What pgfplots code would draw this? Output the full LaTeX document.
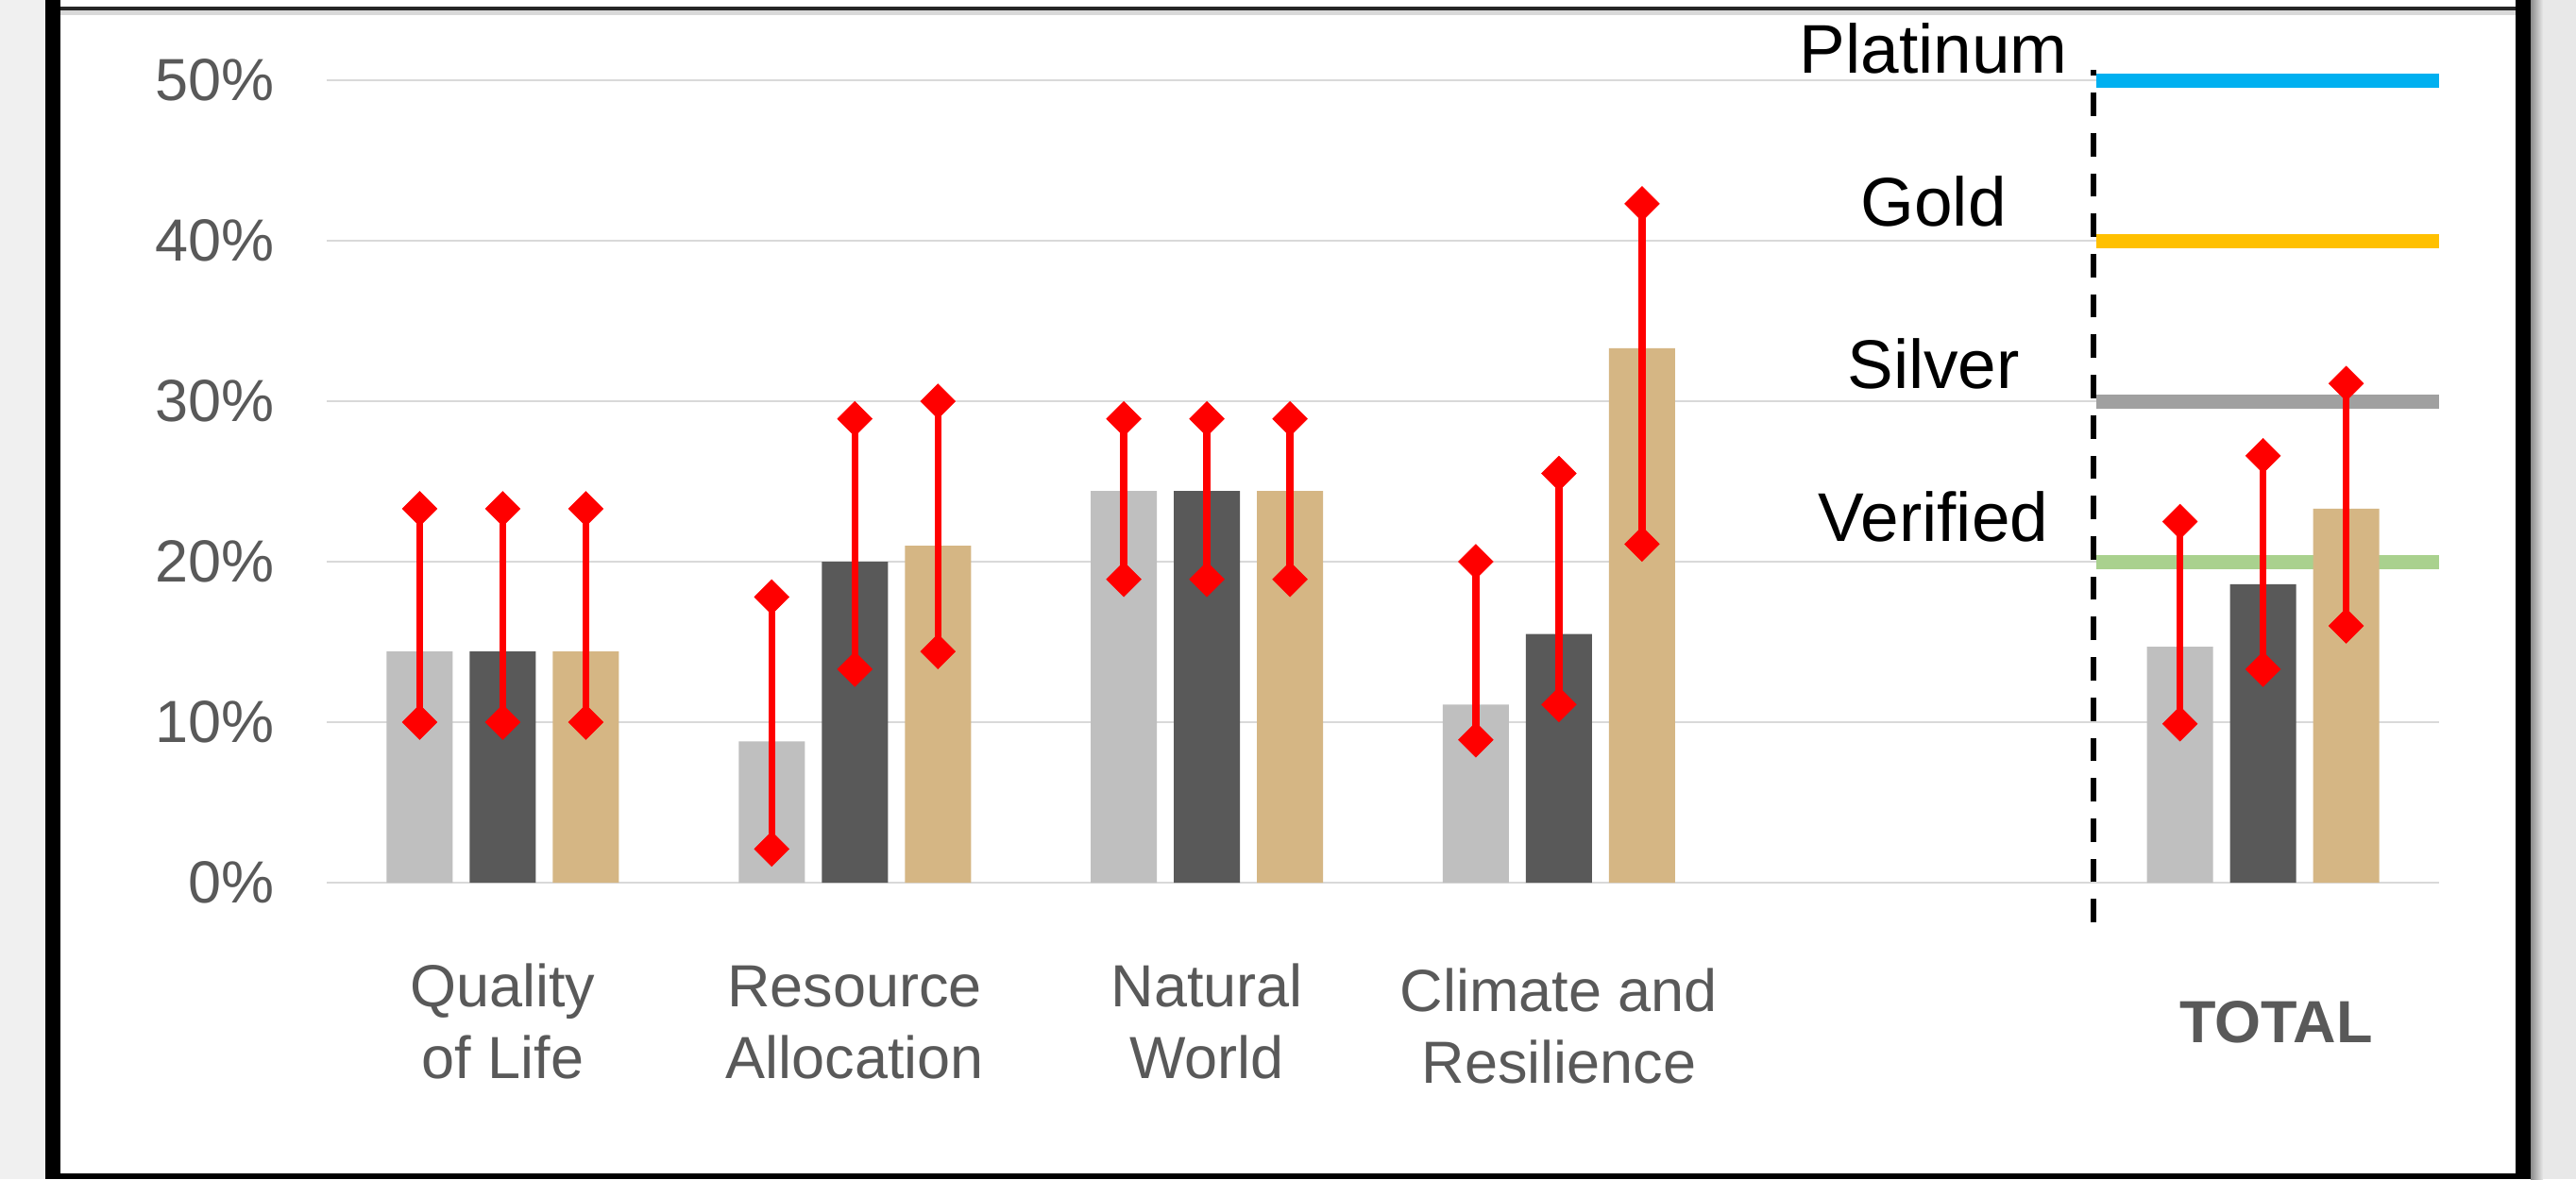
\documentclass[border=0pt]{standalone}
\usepackage{pgfplots}
\pgfplotsset{compat=1.18}
\usepackage{pgfplotstable}
\usepackage{fontspec}
\setmainfont{Liberation Sans}
\definecolor{gridc}{HTML}{D9D9D9}
\definecolor{labc}{HTML}{595959}
\definecolor{cLight}{HTML}{BFBFBF}
\definecolor{cDark}{HTML}{595959}
\definecolor{cTan}{HTML}{D5B684}
\definecolor{cPlat}{HTML}{00B0F0}
\definecolor{cGold}{HTML}{FFC000}
\definecolor{cSilv}{HTML}{A0A0A0}
\definecolor{cVer}{HTML}{A9D18E}
\definecolor{bgL}{HTML}{F0F0F0}
\definecolor{bgR}{HTML}{E8E8E8}

% x: category position (4 is the empty slot before TOTAL)
\pgfplotstableread{
x v1    lo1   hi1   v2    lo2   hi2   v3    lo3   hi3
0 14.4  10.0  23.3  14.4  10.0  23.3  14.4  10.0  23.3
1 8.8   2.1   17.8  20.0  13.3  28.9  21.0  14.4  30.0
2 24.4  18.9  28.9  24.4  18.9  28.9  24.4  18.9  28.9
3 11.1  8.9   20.0  15.5  11.1  25.5  33.3  21.1  42.3
5 14.7  9.9   22.5  18.6  13.3  26.6  23.3  16.0  31.1
}\data

\pgfplotsset{
  rangebar/.style={draw=none, mark=none,
    error bars/.cd, y dir=both, y explicit, error mark=square*,
    error mark options={rotate=45, fill=red, draw=red, line width=0.1pt, mark size=2.6pt},
    error bar style={draw=red, red, line width=1.5pt}},
}

\begin{document}
\begin{tikzpicture}
\path[use as bounding box] (0,0) rectangle (545.6pt,249.8pt);
% frame
\fill[bgL] (0,0) rectangle (545.6pt,249.8pt);
\fill[bgR] (536pt,0) rectangle (545.6pt,249.8pt);
\shade[left color=black!45, right color=bgR] (536pt,0) rectangle (538.6pt,249.8pt);
\fill[white] (9.6pt,0) rectangle (536pt,249.8pt);
\fill[black] (9.6pt,0) rectangle (12.8pt,249.8pt);
\fill[black] (532.8pt,0) rectangle (536pt,249.8pt);
\fill[black] (9.6pt,0) rectangle (536pt,1.15pt);
\draw[black!15, line width=1pt] (12.8pt,247.1pt) -- (532.8pt,247.1pt);
\draw[black!85, line width=0.7pt] (12.8pt,248pt) -- (532.8pt,248pt);

\begin{axis}[
  at={(69.2pt,62.8pt)}, anchor=south west,
  scale only axis, width=447.4pt, height=170pt,
  xmin=-0.5, xmax=5.5, ymin=0, ymax=50,
  clip=false,
  axis line style={draw=none},
  major tick length=0pt,
  ymajorgrids, grid style={gridc, line width=0.5pt},
  ytick={0,10,20,30,40,50},
  yticklabel={\pgfmathprintnumber{\tick}\%},
  /pgf/number format/assume math mode=true,
  yticklabel style={font=\fontsize{12.6}{15}\selectfont, text=labc, xshift=-7.6pt},
  xtick={0,1,2,3,5},
  xticklabels={{Quality\\of Life},{Resource\\Allocation},{Natural\\World},{\raisebox{-1pt}{Climate and}\\\raisebox{-1pt}{Resilience}},{\hspace*{5.6pt}\raisebox{7.7pt}{\textbf{TOTAL}}}},
  xticklabel style={font=\fontsize{12.6}{15.2}\selectfont, text=labc, align=center, anchor=base, yshift=-41.5pt},
]
% certification thresholds
\addplot[cPlat, line width=3pt] coordinates {(4.5255,50) (5.5,50)};
\addplot[cGold, line width=3pt] coordinates {(4.5255,40) (5.5,40)};
\addplot[cSilv, line width=3pt] coordinates {(4.5255,30) (5.5,30)};
\addplot[cVer, line width=3pt] coordinates {(4.5255,20) (5.5,20)};
\addplot[black, line width=1.2pt, dash pattern=on 4.94pt off 3.6pt] coordinates {(4.517,-2.47) (4.517,50.65)};

\node[anchor=base, font=\fontsize{14.6}{17}\selectfont] at (axis cs:4.064,50.47) {Platinum};
\node[anchor=base, font=\fontsize{14.6}{17}\selectfont] at (axis cs:4.064,40.94) {Gold};
\node[anchor=base, font=\fontsize{14.6}{17}\selectfont] at (axis cs:4.064,30.82) {Silver};
\node[anchor=base, font=\fontsize{14.6}{17}\selectfont] at (axis cs:4.064,21.29) {Verified};

% bars
\addplot[ybar, bar width=14pt, bar shift=-17.6pt, fill=cLight, draw=none] table[x=x, y=v1] {\data};
\addplot[ybar, bar width=14pt, bar shift=0pt, fill=cDark, draw=none] table[x=x, y=v2] {\data};
\addplot[ybar, bar width=14pt, bar shift=17.6pt, fill=cTan, draw=none] table[x=x, y=v3] {\data};

% ranges
\addplot[rangebar] table[x expr=\thisrow{x}-0.236, y=v1, y error plus expr=\thisrow{hi1}-\thisrow{v1}, y error minus expr=\thisrow{v1}-\thisrow{lo1}] {\data};
\addplot[rangebar] table[x=x, y=v2, y error plus expr=\thisrow{hi2}-\thisrow{v2}, y error minus expr=\thisrow{v2}-\thisrow{lo2}] {\data};
\addplot[rangebar] table[x expr=\thisrow{x}+0.236, y=v3, y error plus expr=\thisrow{hi3}-\thisrow{v3}, y error minus expr=\thisrow{v3}-\thisrow{lo3}] {\data};
\end{axis}
\end{tikzpicture}
\end{document}
